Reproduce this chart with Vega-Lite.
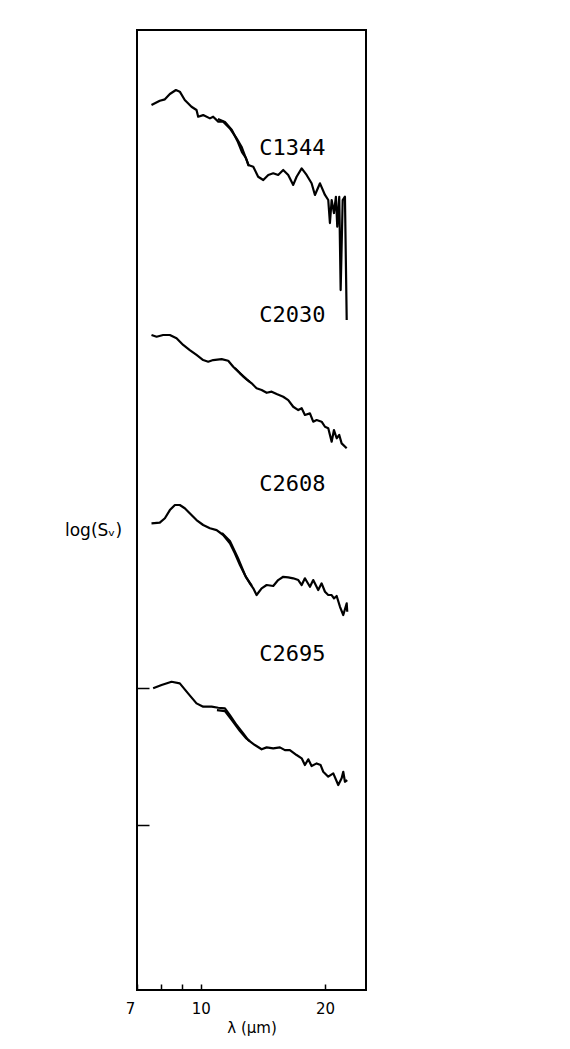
{
  "$schema": "https://vega.github.io/schema/vega-lite/v6.json",
  "width": 229,
  "height": 960,
  "autosize": {"type": "none"},
  "padding": {"left": 137, "top": 30, "right": 204, "bottom": 59},
  "background": "white",
  "config": {
    "view": {"stroke": "black", "strokeWidth": 2},
    "axis": {"grid": false, "domain": false, "labelColor": "black", "titleColor": "black", "tickColor": "black"}
  },
  "datasets": {
    "spectra": [
      {"s": "C1344a", "lam": 7.59, "v": 4.255}, {"s": "C1344a", "lam": 7.95, "v": 4.287}, {"s": "C1344a", "lam": 8.18, "v": 4.297},
      {"s": "C1344a", "lam": 8.41, "v": 4.336}, {"s": "C1344a", "lam": 8.70, "v": 4.365}, {"s": "C1344a", "lam": 8.89, "v": 4.353},
      {"s": "C1344a", "lam": 9.14, "v": 4.292}, {"s": "C1344a", "lam": 9.49, "v": 4.243}, {"s": "C1344a", "lam": 9.76, "v": 4.219},
      {"s": "C1344a", "lam": 9.85, "v": 4.170}, {"s": "C1344a", "lam": 10.13, "v": 4.182}, {"s": "C1344a", "lam": 10.52, "v": 4.158},
      {"s": "C1344a", "lam": 10.71, "v": 4.170}, {"s": "C1344a", "lam": 11.02, "v": 4.134}, {"s": "C1344a", "lam": 11.33, "v": 4.134},
      {"s": "C1344a", "lam": 11.76, "v": 4.085}, {"s": "C1344a", "lam": 12.21, "v": 4.012}, {"s": "C1344a", "lam": 12.55, "v": 3.951},
      {"s": "C1344a", "lam": 12.91, "v": 3.854}, {"s": "C1344a", "lam": 13.03, "v": 3.818}, {"s": "C1344a", "lam": 13.40, "v": 3.805},
      {"s": "C1344a", "lam": 13.77, "v": 3.732}, {"s": "C1344a", "lam": 14.17, "v": 3.708}, {"s": "C1344a", "lam": 14.57, "v": 3.745},
      {"s": "C1344a", "lam": 14.98, "v": 3.757}, {"s": "C1344a", "lam": 15.40, "v": 3.745}, {"s": "C1344a", "lam": 15.84, "v": 3.781},
      {"s": "C1344a", "lam": 16.29, "v": 3.745}, {"s": "C1344a", "lam": 16.75, "v": 3.672}, {"s": "C1344a", "lam": 17.07, "v": 3.732},
      {"s": "C1344a", "lam": 17.56, "v": 3.793}, {"s": "C1344a", "lam": 18.05, "v": 3.745}, {"s": "C1344a", "lam": 18.56, "v": 3.684},
      {"s": "C1344a", "lam": 18.91, "v": 3.599}, {"s": "C1344a", "lam": 19.45, "v": 3.684}, {"s": "C1344a", "lam": 20.00, "v": 3.599},
      {"s": "C1344a", "lam": 20.37, "v": 3.562}, {"s": "C1344a", "lam": 20.56, "v": 3.394}, {"s": "C1344a", "lam": 20.76, "v": 3.562},
      {"s": "C1344a", "lam": 21.03, "v": 3.467}, {"s": "C1344a", "lam": 21.26, "v": 3.586}, {"s": "C1344a", "lam": 21.42, "v": 3.367},
      {"s": "C1344a", "lam": 21.66, "v": 3.586}, {"s": "C1344a", "lam": 21.83, "v": 2.905}, {"s": "C1344a", "lam": 22.08, "v": 3.562},
      {"s": "C1344a", "lam": 22.36, "v": 3.586}, {"s": "C1344a", "lam": 22.58, "v": 2.686},
      {"s": "C1344b", "lam": 11.00, "v": 4.153}, {"s": "C1344b", "lam": 11.44, "v": 4.131}, {"s": "C1344b", "lam": 11.89, "v": 4.073},
      {"s": "C1344b", "lam": 12.30, "v": 3.985}, {"s": "C1344b", "lam": 12.58, "v": 3.912}, {"s": "C1344b", "lam": 12.86, "v": 3.869},
      {"s": "C1344b", "lam": 13.08, "v": 3.810},
      {"s": "C2030a", "lam": 7.59, "v": 2.577}, {"s": "C2030a", "lam": 7.81, "v": 2.564}, {"s": "C2030a", "lam": 8.10, "v": 2.577},
      {"s": "C2030a", "lam": 8.41, "v": 2.577}, {"s": "C2030a", "lam": 8.73, "v": 2.553}, {"s": "C2030a", "lam": 9.06, "v": 2.504},
      {"s": "C2030a", "lam": 9.40, "v": 2.467}, {"s": "C2030a", "lam": 9.76, "v": 2.431}, {"s": "C2030a", "lam": 10.13, "v": 2.394},
      {"s": "C2030a", "lam": 10.42, "v": 2.382}, {"s": "C2030a", "lam": 10.71, "v": 2.394}, {"s": "C2030a", "lam": 11.23, "v": 2.401},
      {"s": "C2030a", "lam": 11.65, "v": 2.389}, {"s": "C2030a", "lam": 11.98, "v": 2.345}, {"s": "C2030a", "lam": 12.44, "v": 2.297},
      {"s": "C2030a", "lam": 12.91, "v": 2.253}, {"s": "C2030a", "lam": 13.28, "v": 2.224}, {"s": "C2030a", "lam": 13.65, "v": 2.188},
      {"s": "C2030a", "lam": 14.04, "v": 2.175}, {"s": "C2030a", "lam": 14.44, "v": 2.155}, {"s": "C2030a", "lam": 14.85, "v": 2.163},
      {"s": "C2030a", "lam": 15.27, "v": 2.146}, {"s": "C2030a", "lam": 15.84, "v": 2.126}, {"s": "C2030a", "lam": 16.29, "v": 2.102},
      {"s": "C2030a", "lam": 16.75, "v": 2.053}, {"s": "C2030a", "lam": 17.23, "v": 2.029}, {"s": "C2030a", "lam": 17.56, "v": 2.042},
      {"s": "C2030a", "lam": 17.88, "v": 1.993}, {"s": "C2030a", "lam": 18.39, "v": 2.005}, {"s": "C2030a", "lam": 18.73, "v": 1.944},
      {"s": "C2030a", "lam": 19.09, "v": 1.956}, {"s": "C2030a", "lam": 19.63, "v": 1.944}, {"s": "C2030a", "lam": 20.00, "v": 1.907},
      {"s": "C2030a", "lam": 20.37, "v": 1.896}, {"s": "C2030a", "lam": 20.76, "v": 1.798}, {"s": "C2030a", "lam": 21.03, "v": 1.883},
      {"s": "C2030a", "lam": 21.35, "v": 1.823}, {"s": "C2030a", "lam": 21.66, "v": 1.847}, {"s": "C2030a", "lam": 21.95, "v": 1.786},
      {"s": "C2030a", "lam": 22.58, "v": 1.750},
      {"s": "C2030b", "lam": 12.09, "v": 2.336}, {"s": "C2030b", "lam": 12.65, "v": 2.277}, {"s": "C2030b", "lam": 13.15, "v": 2.234},
      {"s": "C2608a", "lam": 7.59, "v": 1.202}, {"s": "C2608a", "lam": 7.95, "v": 1.207}, {"s": "C2608a", "lam": 8.18, "v": 1.239},
      {"s": "C2608a", "lam": 8.41, "v": 1.299}, {"s": "C2608a", "lam": 8.65, "v": 1.336}, {"s": "C2608a", "lam": 8.89, "v": 1.336},
      {"s": "C2608a", "lam": 9.14, "v": 1.312}, {"s": "C2608a", "lam": 9.49, "v": 1.263}, {"s": "C2608a", "lam": 9.76, "v": 1.226},
      {"s": "C2608a", "lam": 10.13, "v": 1.190}, {"s": "C2608a", "lam": 10.52, "v": 1.166}, {"s": "C2608a", "lam": 10.92, "v": 1.153},
      {"s": "C2608a", "lam": 11.33, "v": 1.117}, {"s": "C2608a", "lam": 11.76, "v": 1.056}, {"s": "C2608a", "lam": 12.09, "v": 0.983},
      {"s": "C2608a", "lam": 12.44, "v": 0.898}, {"s": "C2608a", "lam": 12.79, "v": 0.825}, {"s": "C2608a", "lam": 13.15, "v": 0.764},
      {"s": "C2608a", "lam": 13.40, "v": 0.728}, {"s": "C2608a", "lam": 13.65, "v": 0.679}, {"s": "C2608a", "lam": 14.04, "v": 0.728},
      {"s": "C2608a", "lam": 14.44, "v": 0.752}, {"s": "C2608a", "lam": 14.98, "v": 0.745}, {"s": "C2608a", "lam": 15.40, "v": 0.788},
      {"s": "C2608a", "lam": 15.84, "v": 0.812}, {"s": "C2608a", "lam": 16.29, "v": 0.808}, {"s": "C2608a", "lam": 16.75, "v": 0.801},
      {"s": "C2608a", "lam": 17.23, "v": 0.788}, {"s": "C2608a", "lam": 17.56, "v": 0.752}, {"s": "C2608a", "lam": 17.88, "v": 0.801},
      {"s": "C2608a", "lam": 18.39, "v": 0.739}, {"s": "C2608a", "lam": 18.73, "v": 0.788}, {"s": "C2608a", "lam": 19.26, "v": 0.715},
      {"s": "C2608a", "lam": 19.63, "v": 0.764}, {"s": "C2608a", "lam": 20.00, "v": 0.703}, {"s": "C2608a", "lam": 20.37, "v": 0.679},
      {"s": "C2608a", "lam": 20.76, "v": 0.679}, {"s": "C2608a", "lam": 21.03, "v": 0.655}, {"s": "C2608a", "lam": 21.35, "v": 0.672},
      {"s": "C2608a", "lam": 21.75, "v": 0.593}, {"s": "C2608a", "lam": 22.15, "v": 0.533}, {"s": "C2608a", "lam": 22.58, "v": 0.618},
      {"s": "C2608a", "lam": 22.65, "v": 0.557},
      {"s": "C2608b", "lam": 11.25, "v": 1.131}, {"s": "C2608b", "lam": 11.76, "v": 1.073}, {"s": "C2608b", "lam": 12.30, "v": 0.949},
      {"s": "C2608b", "lam": 12.86, "v": 0.810}, {"s": "C2608b", "lam": 13.30, "v": 0.745},
      {"s": "C2695a", "lam": 7.66, "v": -0.002}, {"s": "C2695a", "lam": 8.03, "v": 0.022}, {"s": "C2695a", "lam": 8.49, "v": 0.046},
      {"s": "C2695a", "lam": 8.89, "v": 0.034}, {"s": "C2695a", "lam": 9.31, "v": -0.039}, {"s": "C2695a", "lam": 9.76, "v": -0.112},
      {"s": "C2695a", "lam": 10.13, "v": -0.136}, {"s": "C2695a", "lam": 10.62, "v": -0.136}, {"s": "C2695a", "lam": 11.02, "v": -0.144},
      {"s": "C2695a", "lam": 11.44, "v": -0.148}, {"s": "C2695a", "lam": 11.76, "v": -0.197}, {"s": "C2695a", "lam": 12.21, "v": -0.270},
      {"s": "C2695a", "lam": 12.67, "v": -0.331}, {"s": "C2695a", "lam": 13.03, "v": -0.380}, {"s": "C2695a", "lam": 13.52, "v": -0.416},
      {"s": "C2695a", "lam": 14.04, "v": -0.447}, {"s": "C2695a", "lam": 14.44, "v": -0.433}, {"s": "C2695a", "lam": 14.98, "v": -0.440},
      {"s": "C2695a", "lam": 15.55, "v": -0.433}, {"s": "C2695a", "lam": 15.99, "v": -0.453}, {"s": "C2695a", "lam": 16.44, "v": -0.453},
      {"s": "C2695a", "lam": 17.07, "v": -0.489}, {"s": "C2695a", "lam": 17.56, "v": -0.513}, {"s": "C2695a", "lam": 17.88, "v": -0.562},
      {"s": "C2695a", "lam": 18.22, "v": -0.520}, {"s": "C2695a", "lam": 18.56, "v": -0.569}, {"s": "C2695a", "lam": 19.09, "v": -0.550},
      {"s": "C2695a", "lam": 19.52, "v": -0.562}, {"s": "C2695a", "lam": 19.81, "v": -0.611}, {"s": "C2695a", "lam": 20.37, "v": -0.647},
      {"s": "C2695a", "lam": 20.95, "v": -0.623}, {"s": "C2695a", "lam": 21.54, "v": -0.708}, {"s": "C2695a", "lam": 21.95, "v": -0.659},
      {"s": "C2695a", "lam": 22.15, "v": -0.611}, {"s": "C2695a", "lam": 22.36, "v": -0.684}, {"s": "C2695a", "lam": 22.65, "v": -0.672},
      {"s": "C2695b", "lam": 10.94, "v": -0.161}, {"s": "C2695b", "lam": 11.44, "v": -0.168}, {"s": "C2695b", "lam": 11.89, "v": -0.234},
      {"s": "C2695b", "lam": 12.44, "v": -0.314}, {"s": "C2695b", "lam": 12.86, "v": -0.365}, {"s": "C2695b", "lam": 13.15, "v": -0.387}
    ],
    "labels": [
      {"name": "C1344", "lam": 16.68, "v": 3.945},
      {"name": "C2030", "lam": 16.68, "v": 2.726},
      {"name": "C2608", "lam": 16.68, "v": 1.489},
      {"name": "C2695", "lam": 16.68, "v": 0.252}
    ]
  },
  "layer": [
    {
      "data": {"name": "spectra"},
      "mark": {"type": "line", "color": "black", "strokeWidth": 2.2, "strokeJoin": "round"},
      "encoding": {
        "x": {
          "field": "lam", "type": "quantitative",
          "scale": {"type": "log", "domain": [7, 25.15], "nice": false, "zero": false},
          "axis": {
            "values": [7, 8, 9, 10, 20],
            "labelExpr": "datum.value == 8 || datum.value == 9 ? '' : datum.label",
            "labelOffset": {"condition": {"test": "datum.value == 7", "value": -7}, "value": 0},
            "tickSize": -6, "tickWidth": 1.5,
            "labelFont": "DejaVu Sans", "labelFontSize": 15, "labelPadding": 17,
            "labelFlush": false,
            "title": "λ (μm)", "titleFont": "DejaVu Sans", "titleFontSize": 15, "titleFontWeight": "normal", "titlePadding": 4
          }
        },
        "y": {
          "field": "v", "type": "quantitative",
          "scale": {"domain": [-2.204, 4.803], "nice": false, "zero": false},
          "axis": {
            "values": [-1, 0],
            "labels": false,
            "tickSize": -12, "tickWidth": 1.5,
            "title": "log(Sᵥ)", "titleAngle": 0, "titleFont": "DejaVu Sans", "titleFontSize": 17, "titleFontWeight": "normal",
            "titleX": -44, "titleY": 500, "titleAlign": "center", "titleBaseline": "middle"
          }
        },
        "detail": {"field": "s", "type": "nominal"}
      }
    },
    {
      "data": {"name": "labels"},
      "mark": {"type": "text", "font": "DejaVu Sans Mono", "fontSize": 22, "color": "black", "align": "center", "baseline": "middle"},
      "encoding": {
        "x": {"field": "lam", "type": "quantitative"},
        "y": {"field": "v", "type": "quantitative"},
        "text": {"field": "name", "type": "nominal"}
      }
    }
  ]
}
